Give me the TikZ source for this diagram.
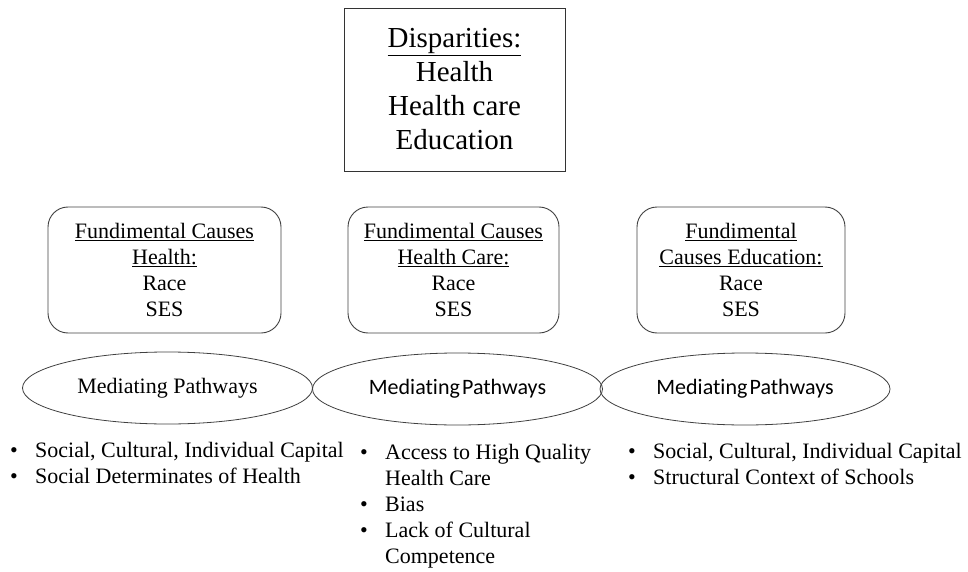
\documentclass[tikz,border=0pt]{standalone}
\usepackage{fontspec}
\setmainfont{Liberation Serif}
\newfontfamily\pathfont[Ligatures=NoCommon]{Carlito}
\usetikzlibrary{shapes.geometric}

% font size helpers
\newcommand{\bigtext}{\fontsize{29}{34}\selectfont}
\newcommand{\midtext}{\fontsize{22}{26}\selectfont}
\newcommand{\bul}{\makebox[25pt][l]{\textbullet}}

\begin{document}
\begin{tikzpicture}[x=1pt,y=-1pt,
  framebox/.style={draw=black!80, line width=0.9pt, align=center, inner sep=0pt,
    font=\bigtext},
  causebox/.style={draw=black!75, line width=0.9pt, rounded corners=20pt,
    align=center, inner sep=0pt, minimum height=126pt, font=\midtext},
  pathway/.style={ellipse, draw=black!75, line width=0.8pt, inner sep=0pt,
    minimum width=290pt, minimum height=72pt, font=\midtext},
  bullets/.style={anchor=base west, inner sep=0pt, font=\midtext}]

  \useasboundingbox (0,0) rectangle (968,572);

  % outcome box
  \node[framebox, minimum width=221pt, minimum height=163pt] (disp) at (454.5,89.5)
    {\underline{Disparities:}\\Health\\Health care\\Education};

  % fundamental causes
  \node[causebox, minimum width=233pt] (fch) at (164.5,270)
    {\underline{Fundimental Causes}\\\underline{Health:}\\Race\\SES};
  \node[causebox, minimum width=211pt] (fchc) at (453.5,270)
    {\underline{Fundimental Causes}\\\underline{Health Care:}\\Race\\SES};
  \node[causebox, minimum width=208pt] (fce) at (741,270)
    {\underline{Fundimental}\\\underline{Causes Education:}\\Race\\SES};

  % mediating pathways
  \node[pathway] (mp1) at (167.5,388) {\raisebox{-2pt}{Mediating Pathways}};
  \node[pathway, font=\midtext\pathfont] (mp2) at (457.5,389) {\raisebox{-2pt}{Mediating\hspace{0.1em}Pathways}};
  \node[pathway, font=\midtext\pathfont] (mp3) at (745,389) {\raisebox{-2pt}{Mediating\hspace{0.1em}Pathways}};

  % pathway lists
  \node[bullets] (list1) at (10,457)
    {\begin{tabular}[t]{@{}l@{}}
      \bul Social, Cultural, Individual Capital\\
      \bul Social Determinates of Health
    \end{tabular}};
  \node[bullets] (list2) at (360,459)
    {\begin{tabular}[t]{@{}l@{}}
      \bul Access to High Quality\\
      \hphantom{\bul}Health Care\\
      \bul Bias\\
      \bul Lack of Cultural\\
      \hphantom{\bul}Competence
    \end{tabular}};
  \node[bullets] (list3) at (628,458)
    {\begin{tabular}[t]{@{}l@{}}
      \bul Social, Cultural, Individual Capital\\
      \bul Structural Context of Schools
    \end{tabular}};
\end{tikzpicture}
\end{document}
